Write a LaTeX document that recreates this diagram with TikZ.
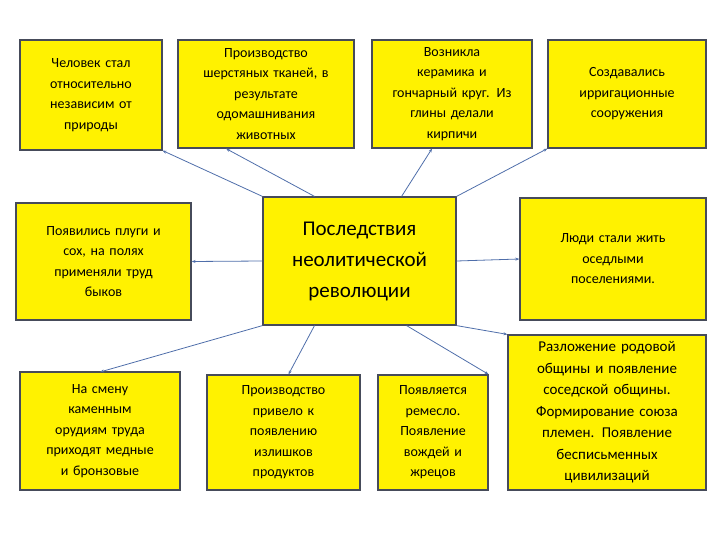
\documentclass[tikz,border=0pt]{standalone}
\usepackage{fontspec}
\setmainfont{Carlito}
\usetikzlibrary{arrows.meta}
\definecolor{edge}{RGB}{79,110,170}
\definecolor{bord}{RGB}{70,75,90}
\begin{document}
\begin{tikzpicture}[x=1pt,y=-1pt,
  box/.style={draw=bord,line width=1.2pt,fill=yellow,align=center,inner sep=1pt,font=\fontsize{14}{20.5}\selectfont},
  con/.style={draw=edge,line width=0.8pt,-{Stealth[length=4pt,width=3pt]}}]
\useasboundingbox (0,0) rectangle (720,540);
\newcommand\bx[6]{\node[box,minimum width=#4-#2,minimum height=#5-#3,text width=#4-#2-6] (#1) at ({(#2+#4)/2},{(#3+#5)/2}) {#6};}
\bx{b1}{20}{40}{162}{150}{Человек стал\\относительно\\независим от\\природы}
\bx{b2}{178}{40}{354}{148}{Производство\\шерстяных тканей, в\\результате\\одомашнивания\\животных}
\bx{b3}{372}{40}{532}{148}{Возникла\\керамика и\\гончарный круг. Из\\глины делали\\кирпичи}
\bx{b4}{548}{40}{706}{148}{Создавались\\ирригационные\\сооружения}
\node[box,minimum width=193,minimum height=128,font=\fontsize{21}{31}\selectfont] (c) at (359.5,261) {Последствия\\неолитической\\революции};
\bx{b5}{16}{203}{191}{320}{Появились плуги и\\сох, на полях\\применяли труд\\быков}
\bx{b6}{520}{198}{706}{320}{Люди стали жить\\оседлыми\\поселениями.}
\bx{b7}{20}{372}{180}{490}{На смену\\каменным\\орудиям труда\\приходят медные\\и бронзовые}
\bx{b8}{207}{375}{360}{490}{Производство\\привело к\\появлению\\излишков\\продуктов}
\bx{b9}{378}{375}{488}{490}{Появляется\\ремесло.\\Появление\\вождей и\\жрецов}
\node[box,minimum width=198,minimum height=155,text width=194,font=\fontsize{15}{21.5}\selectfont] (b10) at (607,412.5) {Разложение родовой\\общины и появление\\соседской общины.\\Формирование союза\\племен. Появление\\бесписьменных\\цивилизаций};
\path (c.north) ++(-45,0) coordinate (t1);
\path (c.north east) ++(-55,0) coordinate (t2);
\path (c.south) ++(-45,0) coordinate (t3);
\path (c.south east) ++(-50,0) coordinate (t4);
\path (b2.south) ++(-40,0) coordinate (e2);
\path (b3.south) ++(-20,0) coordinate (e3);
\path (b8.north) ++(5,0) coordinate (e8);
\coordinate (e7) at (100,372);
\draw[con] (c.north west) -- (b1.south east);
\draw[con] (t1) -- (e2);
\draw[con] (t2) -- (e3);
\draw[con] (c.north east) -- (b4.south west);
\draw[con] (c.west) -- (b5.east);
\draw[con] (c.east) -- (b6.west);
\draw[con] (c.south west) -- (e7);
\draw[con] (t3) -- (e8);
\draw[con] (t4) -- (b9.north east);
\draw[con] (c.south east) -- (b10.north west);
\end{tikzpicture}
\end{document}
